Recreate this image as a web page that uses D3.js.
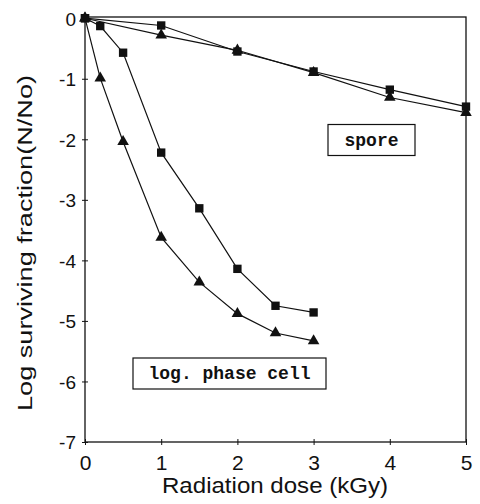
<!DOCTYPE html>
<html>
<head>
<meta charset="utf-8">
<script src="https://cdn.jsdelivr.net/npm/d3@7"></script>
<style>
  body { margin:0; background:#fff; }
  svg { display:block; }
</style>
</head>
<body>
<svg width="480" height="504"></svg>
<script>
// doses (kGy)
var spore_dose = [0, 1, 2, 3, 4, 5];
var spore_sq = [0, -0.12, -0.55, -0.88, -1.18, -1.46];
var spore_tri = [0, -0.28, -0.53, -0.9, -1.31, -1.56];

var cell_dose = [0, 0.2, 0.5, 1, 1.5, 2, 2.5, 3];
var cell_sq = [0, -0.13, -0.57, -2.22, -3.14, -4.14, -4.75, -4.86];
var cell_tri = [0, -0.99, -2.04, -3.62, -4.36, -4.88, -5.2, -5.33];

var x_ticks = [0, 1, 2, 3, 4, 5];
var y_ticks = [0, -1, -2, -3, -4, -5, -6, -7];

function draw()
{
  var svg = d3.select("svg");
  var pLeft = 85, pRight = 466, pTop = 17, pBottom = 442;
  var font = "'Liberation Sans', Arial, sans-serif";

  var x = d3.scaleLinear().domain([0, 5]).range([pLeft, pRight]);
  var y = d3.scaleLinear().domain([-7, 0.02]).range([pBottom, pTop]);

  // frame
  svg.append("rect")
    .attr("x", pLeft).attr("y", pTop)
    .attr("width", pRight-pLeft).attr("height", pBottom-pTop)
    .style("fill", "none").style("stroke", "#111").style("stroke-width", 1.3);

  // axes, ticks crossing the frame; plain hyphen for minus
  var xAxis = svg.append("g").attr("transform", "translate(0," + pBottom + ")")
    .call(d3.axisBottom(x).tickValues(x_ticks).tickSize(3).tickFormat(d => String(d)));
  xAxis.select(".domain").remove();
  xAxis.selectAll(".tick line").attr("y1", -3).style("stroke", "#111");
  xAxis.selectAll(".tick text").attr("y", 28).attr("dy", 0)
    .style("font-family", font).style("font-size", "21px").style("fill", "#111");

  var yAxis = svg.append("g").attr("transform", "translate(" + pLeft + ",0)")
    .call(d3.axisLeft(y).tickValues(y_ticks).tickSize(3).tickFormat(d => String(d)));
  yAxis.select(".domain").remove();
  yAxis.selectAll(".tick line").attr("x1", 3).style("stroke", "#111");
  yAxis.selectAll(".tick text").attr("x", -9).attr("dy", "0.36em")
    .style("font-family", font).style("font-size", "19px").style("fill", "#111");

  // axis titles
  svg.append("text")
    .attr("x", 275).attr("y", 493)
    .attr("text-anchor", "middle")
    .attr("textLength", 226).attr("lengthAdjust", "spacingAndGlyphs")
    .style("font-family", font).style("font-size", "22px").style("fill", "#111")
    .text("Radiation dose (kGy)");

  svg.append("text")
    .attr("transform", "translate(32,243) rotate(-90)")
    .attr("text-anchor", "middle")
    .attr("textLength", 336).attr("lengthAdjust", "spacingAndGlyphs")
    .style("font-family", font).style("font-size", "20px").style("fill", "#111")
    .text("Log surviving fraction(N/No)");

  // series
  var series = [
    {dose: spore_dose, vals: spore_sq, shape: d3.symbolSquare, size: 70},
    {dose: spore_dose, vals: spore_tri, shape: d3.symbolTriangle, size: 58},
    {dose: cell_dose, vals: cell_sq, shape: d3.symbolSquare, size: 70},
    {dose: cell_dose, vals: cell_tri, shape: d3.symbolTriangle, size: 58}
  ];

  var line = d3.line().x(d => x(d[0])).y(d => y(d[1]));

  series.forEach(function(s) {
    var pts = s.dose.map((d, i) => [d, s.vals[i]]);
    svg.append("path")
      .datum(pts)
      .attr("d", line)
      .style("fill", "none").style("stroke", "#111").style("stroke-width", 1.2);
    svg.selectAll(null)
      .data(pts).enter()
      .append("path")
      .attr("transform", d => "translate(" + x(d[0]) + "," + y(d[1]) + ")")
      .attr("d", d3.symbol().type(s.shape).size(s.size))
      .style("fill", "#111");
  });

  // boxed labels
  function boxLabel(txt, cx, cy, w, h)
  {
    svg.append("rect")
      .attr("x", cx - w/2).attr("y", cy - h/2)
      .attr("width", w).attr("height", h)
      .style("fill", "#fff").style("stroke", "#111").style("stroke-width", 1.2);
    svg.append("text")
      .attr("x", cx).attr("y", cy)
      .attr("dy", "0.33em")
      .attr("text-anchor", "middle")
      .style("font-family", "'Liberation Mono', 'DejaVu Sans Mono', monospace")
      .style("font-weight", "bold").style("font-size", "18px").style("fill", "#111")
      .text(txt);
  }
  boxLabel("spore", 371.5, 140, 87, 31);
  boxLabel("log. phase cell", 229.5, 373.5, 193, 31);
}
draw();
</script>
</body>
</html>
